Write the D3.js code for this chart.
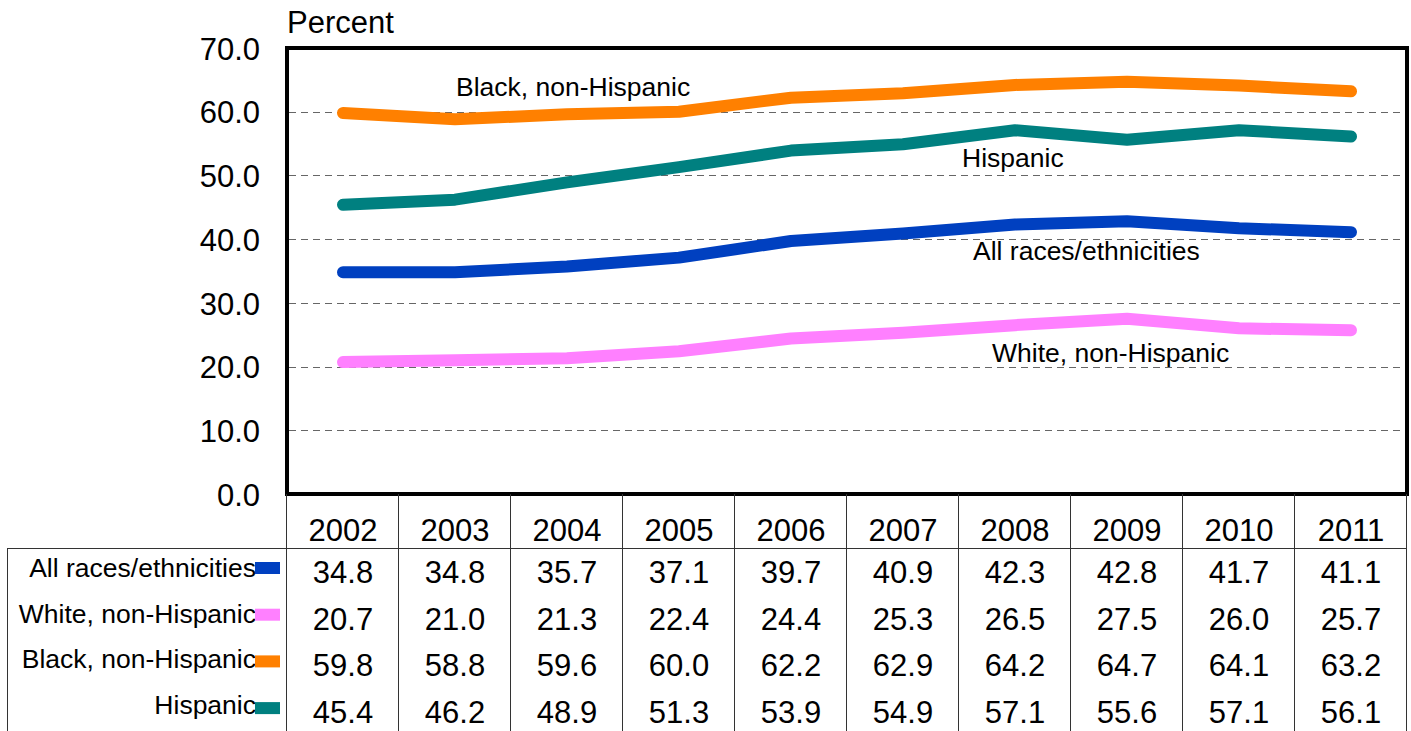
<!DOCTYPE html>
<html><head><meta charset="utf-8">
<script src="https://cdn.jsdelivr.net/npm/d3@7"></script>
<style>body{margin:0;background:#fff}svg{display:block;font-family:"Liberation Sans",Arial,sans-serif}</style>
</head><body><svg id="c" width="1411" height="731"></svg>
<script>
const years = ["2002","2003","2004","2005","2006","2007","2008","2009","2010","2011"];
const seriesNames = ["All races/ethnicities","White, non-Hispanic","Black, non-Hispanic","Hispanic"];
const seriesColors = ["#0040C0","#FF80FF","#FF8000","#008080"];
const allRaces = [34.8,34.8,35.7,37.1,39.7,40.9,42.3,42.8,41.7,41.1];
const white = [20.7,21.0,21.3,22.4,24.4,25.3,26.5,27.5,26.0,25.7];
const black = [59.8,58.8,59.6,60.0,62.2,62.9,64.2,64.7,64.1,63.2];
const hispanic = [45.4,46.2,48.9,51.3,53.9,54.9,57.1,55.6,57.1,56.1];
const yTicks = [0,10,20,30,40,50,60,70];
const seriesValues = [allRaces, white, black, hispanic];

const svg = d3.select("#c");
const L = 287, R = 1407, T = 48, B = 494;
const x = d3.scaleBand().domain(years).range([L, R]);
const y = d3.scaleLinear().domain([0,70]).range([B, T]);

// gridlines
svg.append("g").selectAll("line").data(yTicks.filter(d=>d>0&&d<70)).join("line")
  .attr("x1", L+2).attr("x2", R-2).attr("y1", d=>Math.round(y(d))+0.5).attr("y2", d=>Math.round(y(d))+0.5)
  .attr("stroke","#666").attr("stroke-width",1).attr("stroke-dasharray","7,5");

// y axis labels
const yAxis = d3.axisLeft(y).tickValues(yTicks).tickFormat(d3.format(".1f")).tickSize(0).tickPadding(0);
const ga = svg.append("g").attr("transform",`translate(${260},0)`).call(yAxis);
ga.select(".domain").remove();
ga.selectAll("text").attr("font-size",31).attr("font-family","Liberation Sans, Arial, sans-serif").attr("fill","#000").attr("dy","0.36em");

svg.append("text").attr("x",287).attr("y",33).attr("font-size",31).text("Percent");

// lines
const line = d3.line().x((d,i)=>x(years[i])+x.bandwidth()/2).y(d=>y(d));
svg.append("g").selectAll("path").data(seriesValues).join("path")
  .attr("d", line).attr("fill","none").attr("stroke",(d,i)=>seriesColors[i])
  .attr("stroke-width",12).attr("stroke-linecap","round").attr("stroke-linejoin","round");

// line labels
const labels = [
  {t:"Black, non-Hispanic", x:456, y:96},
  {t:"Hispanic", x:962, y:167},
  {t:"All races/ethnicities", x:973, y:260},
  {t:"White, non-Hispanic", x:992, y:362}
];
svg.append("g").selectAll("text").data(labels).join("text")
  .attr("x",d=>d.x).attr("y",d=>d.y).attr("font-size",26.5).text(d=>d.t);

// plot frame
svg.append("rect").attr("x",L).attr("y",T).attr("width",R-L).attr("height",B-T)
  .attr("fill","none").attr("stroke","#000").attr("stroke-width",4);

// table
const tg = svg.append("g");
const lc = "#333";
const headTop = B, headBot = 548.5;
tg.append("line").attr("x1",7).attr("x2",R).attr("y1",headBot).attr("y2",headBot).attr("stroke",lc);
tg.append("line").attr("x1",7.5).attr("x2",7.5).attr("y1",headBot).attr("y2",731).attr("stroke",lc);
const edges = years.map(d=>x(d)).concat([R]);
tg.selectAll("line.v").data(edges).join("line").attr("class","v")
  .attr("x1",d=>Math.round(d)-0.5).attr("x2",d=>Math.round(d)-0.5).attr("y1",headTop).attr("y2",731).attr("stroke",lc);
tg.selectAll("text.yr").data(years).join("text").attr("class","yr")
  .attr("x",d=>x(d)+x.bandwidth()/2).attr("y",541).attr("text-anchor","middle").attr("font-size",31).text(d=>d);

seriesValues.forEach((vals,si)=>{
  const base = 583 + si*46.7;
  tg.selectAll(null).data(vals).join("text")
    .attr("x",(d,i)=>x(years[i])+x.bandwidth()/2).attr("y",base)
    .attr("text-anchor","middle").attr("font-size",31).text(d=>d3.format(".1f")(d));
  tg.append("text").attr("x",256).attr("y",577 + si*45.5).attr("text-anchor","end")
    .attr("font-size",26.5).text(seriesNames[si]);
  tg.append("rect").attr("x",255).attr("y",562 + si*46.7).attr("width",25).attr("height",12).attr("fill",seriesColors[si]);
});
</script></body></html>
